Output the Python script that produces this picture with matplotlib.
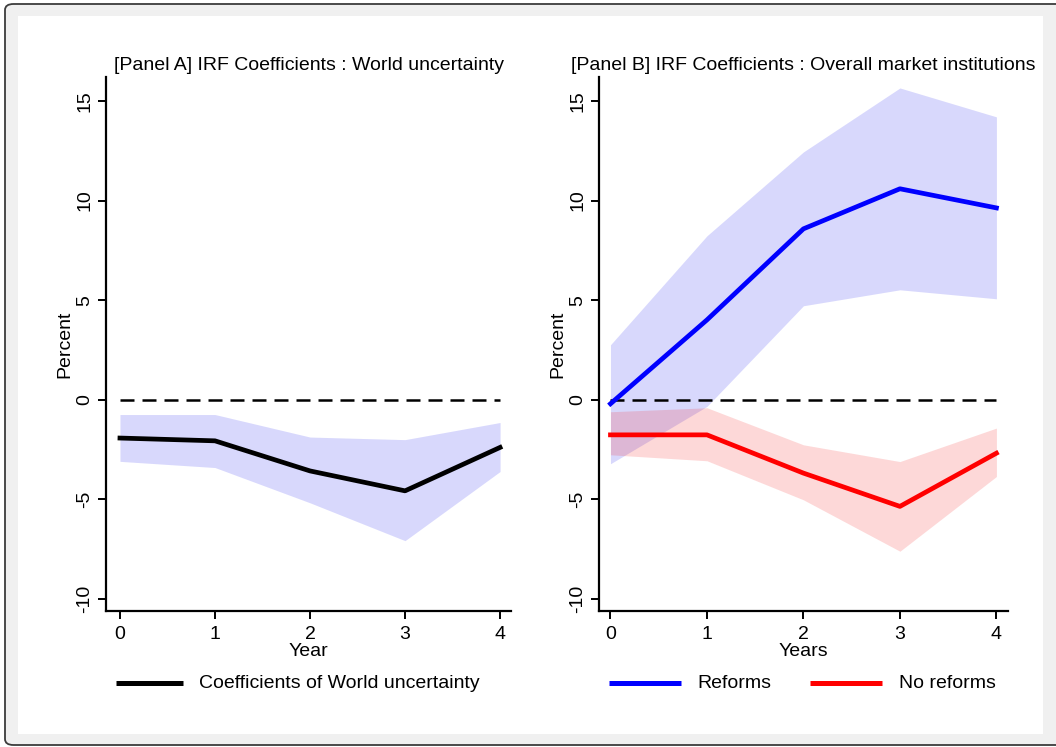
import matplotlib
matplotlib.use("Agg")
import matplotlib.pyplot as plt
from matplotlib.patches import FancyBboxPatch, Rectangle
from matplotlib.lines import Line2D

plt.rcParams['font.family'] = ['Liberation Sans', 'DejaVu Sans']

# ---- data ----
horizon = [0, 1, 2, 3, 4]
x_ticks = [0, 1, 2, 3, 4]
y_ticks = [-10, -5, 0, 5, 10, 15]

world_coef = [-1.92, -2.06, -3.57, -4.57, -2.39]
world_upper = [-0.74, -0.74, -1.87, -2.00, -1.14]
world_lower = [-3.09, -3.40, -5.17, -7.07, -3.60]

reform_coef = [-0.20, 4.01, 8.58, 10.59, 9.63]
reform_upper = [2.76, 8.23, 12.44, 15.65, 14.20]
reform_lower = [-3.21, -0.33, 4.72, 5.52, 5.07]

noreform_coef = [-1.76, -1.76, -3.68, -5.35, -2.68]
noreform_upper = [-0.60, -0.40, -2.26, -3.10, -1.42]
noreform_lower = [-2.76, -3.06, -5.02, -7.60, -3.85]

title_a = "[Panel A] IRF Coefficients : World uncertainty"
title_b = "[Panel B] IRF Coefficients : Overall market institutions"

FS = 14
LW = 3.4
DASH = (5.6, 3.2)

W, H = 1056, 747
fig = plt.figure(figsize=(W / 100, H / 100), dpi=100)
fig.patch.set_facecolor('white')

# outer frame
fig.patches.append(FancyBboxPatch((5 / W, 2 / H), (1070 - 5) / W, (743 - 2) / H,
                                  boxstyle="round,pad=0,rounding_size=0.008",
                                  transform=fig.transFigure, facecolor='#f0f0f0',
                                  edgecolor='#3c3c3c', linewidth=1.3, zorder=-10))
fig.patches.append(Rectangle((18 / W, (H - 734) / H), (1043 - 18) / W, (734 - 16) / H,
                             transform=fig.transFigure, facecolor='white',
                             edgecolor='none', zorder=-9))


def make_axes(left_px, right_px):
    top_px, bottom_px = 77, 611
    ax = fig.add_axes([left_px / W, (H - bottom_px) / H,
                       (right_px - left_px) / W, (bottom_px - top_px) / H])
    ax.set_facecolor('none')
    for s in ['top', 'right']:
        ax.spines[s].set_visible(False)
    for s in ['left', 'bottom']:
        ax.spines[s].set_linewidth(1.6)
    ax.set_ylim(-10.6, 16.2)
    ax.set_yticks(y_ticks)
    ax.set_xticks(x_ticks)
    ax.set_yticklabels([str(v) for v in y_ticks], rotation=90, va='center')
    ax.tick_params(axis='both', length=6, width=1.4, labelsize=FS)
    ax.tick_params(axis='y', pad=3)
    ax.tick_params(axis='x', pad=5)
    return ax


ax1 = make_axes(106, 511)
ax1.set_xlim(-0.147, 4.115)
ax1.fill_between(horizon, world_lower, world_upper, color=(0.1, 0.1, 0.95), alpha=0.17, linewidth=0)
ax1.plot([horizon[0], horizon[-1]], [0, 0], color='black', lw=1.8, dashes=DASH)
ax1.plot(horizon, world_coef, color='black', lw=LW)
ax1.set_title(title_a, fontsize=FS, pad=5)
ax1.set_xlabel("Year", fontsize=FS, labelpad=0)
ax1.set_ylabel("Percent", fontsize=FS, labelpad=2)

ax2 = make_axes(599, 1008)
ax2.set_xlim(-0.119, 4.12)
ax2.fill_between(horizon, reform_lower, reform_upper, color=(0.1, 0.1, 0.95), alpha=0.17, linewidth=0)
ax2.fill_between(horizon, noreform_lower, noreform_upper, color=(0.97, 0.1, 0.1), alpha=0.17, linewidth=0)
ax2.plot([horizon[0], horizon[-1]], [0, 0], color='black', lw=1.8, dashes=DASH)
ax2.plot(horizon, reform_coef, color='blue', lw=LW)
ax2.plot(horizon, noreform_coef, color='red', lw=LW)
ax2.set_title(title_b, fontsize=FS, pad=5)
ax2.set_xlabel("Years", fontsize=FS, labelpad=0)
ax2.set_ylabel("Percent", fontsize=FS, labelpad=2)

# legends (drawn below each panel)
def legend_entry(x0, x1, xt, color, label):
    y = (H - 683) / H
    fig.add_artist(Line2D([x0 / W, x1 / W], [y, y], transform=fig.transFigure,
                          color=color, lw=3.6, solid_capstyle='butt'))
    fig.text(xt / W, y, label, fontsize=FS, va='center', ha='left')

legend_entry(116, 183, 199, 'black', "Coefficients of World uncertainty")
legend_entry(609, 681, 697, 'blue', "Reforms")
legend_entry(810, 882, 899, 'red', "No reforms")

fig.savefig("out.png", dpi=100, facecolor=fig.get_facecolor())
